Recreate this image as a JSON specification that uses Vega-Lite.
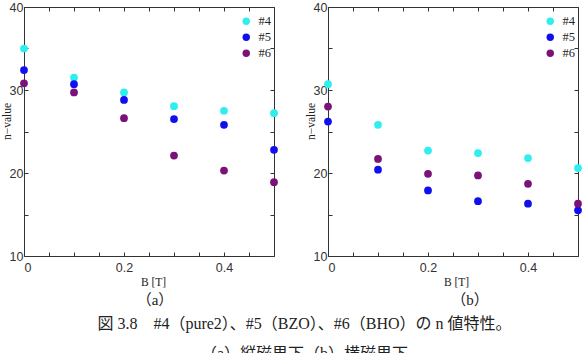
{
  "$schema": "https://vega.github.io/schema/vega-lite/v6.json",
  "background": "white",
  "padding": {"left": 0, "top": 0, "right": 6, "bottom": 0},
  "data": {
    "values": [
      {"panel": "a", "sample": "#4", "B": 0.0, "n": 35.0},
      {"panel": "a", "sample": "#4", "B": 0.1, "n": 31.5},
      {"panel": "a", "sample": "#4", "B": 0.2, "n": 29.7},
      {"panel": "a", "sample": "#4", "B": 0.3, "n": 28.05},
      {"panel": "a", "sample": "#4", "B": 0.4, "n": 27.5},
      {"panel": "a", "sample": "#4", "B": 0.5, "n": 27.2},
      {"panel": "a", "sample": "#5", "B": 0.0, "n": 32.4},
      {"panel": "a", "sample": "#5", "B": 0.1, "n": 30.7},
      {"panel": "a", "sample": "#5", "B": 0.2, "n": 28.8},
      {"panel": "a", "sample": "#5", "B": 0.3, "n": 26.5},
      {"panel": "a", "sample": "#5", "B": 0.4, "n": 25.8},
      {"panel": "a", "sample": "#5", "B": 0.5, "n": 22.8},
      {"panel": "a", "sample": "#6", "B": 0.0, "n": 30.8},
      {"panel": "a", "sample": "#6", "B": 0.1, "n": 29.7},
      {"panel": "a", "sample": "#6", "B": 0.2, "n": 26.6},
      {"panel": "a", "sample": "#6", "B": 0.3, "n": 22.1},
      {"panel": "a", "sample": "#6", "B": 0.4, "n": 20.3},
      {"panel": "a", "sample": "#6", "B": 0.5, "n": 18.9},
      {"panel": "b", "sample": "#4", "B": 0.0, "n": 30.7},
      {"panel": "b", "sample": "#4", "B": 0.1, "n": 25.8},
      {"panel": "b", "sample": "#4", "B": 0.2, "n": 22.7},
      {"panel": "b", "sample": "#4", "B": 0.3, "n": 22.4},
      {"panel": "b", "sample": "#4", "B": 0.4, "n": 21.8},
      {"panel": "b", "sample": "#4", "B": 0.5, "n": 20.6},
      {"panel": "b", "sample": "#5", "B": 0.0, "n": 26.2},
      {"panel": "b", "sample": "#5", "B": 0.1, "n": 20.4},
      {"panel": "b", "sample": "#5", "B": 0.2, "n": 17.9},
      {"panel": "b", "sample": "#5", "B": 0.3, "n": 16.6},
      {"panel": "b", "sample": "#5", "B": 0.4, "n": 16.3},
      {"panel": "b", "sample": "#5", "B": 0.5, "n": 15.5},
      {"panel": "b", "sample": "#6", "B": 0.0, "n": 28.0},
      {"panel": "b", "sample": "#6", "B": 0.1, "n": 21.7},
      {"panel": "b", "sample": "#6", "B": 0.2, "n": 19.9},
      {"panel": "b", "sample": "#6", "B": 0.3, "n": 19.7},
      {"panel": "b", "sample": "#6", "B": 0.4, "n": 18.7},
      {"panel": "b", "sample": "#6", "B": 0.5, "n": 16.3}
    ]
  },
  "bounds": "flush",
  "spacing": 54,
  "title": {
    "text": ["図 3.8　#4（pure2）、#5（BZO）、#6（BHO）の n 値特性。", "（a）縦磁界下（b）横磁界下"],
    "orient": "bottom",
    "anchor": "middle",
    "font": "Liberation Serif, Noto Sans CJK JP",
    "fontSize": 16,
    "fontWeight": "normal",
    "color": "#222",
    "lineHeight": 30,
    "offset": 7,
    "dx": 13
  },
  "resolve": {"scale": {"color": "independent"}, "legend": {"color": "independent"}},
  "config": {
    "view": {"stroke": "#333", "strokeWidth": 1},
    "axis": {
      "grid": false,
      "domain": false,
      "tickColor": "#333",
      "tickSize": -4,
      "tickWidth": 1,
      "labelFont": "Liberation Sans",
      "labelFontSize": 12.5,
      "labelColor": "#333",
      "titleFont": "Liberation Serif",
      "titleFontSize": 11.5,
      "titleFontWeight": "normal",
      "titleColor": "#222"
    },
    "legend": {
      "labelFont": "Liberation Serif",
      "labelFontSize": 12.5,
      "labelColor": "#222",
      "symbolType": "circle",
      "symbolSize": 55,
      "symbolStrokeWidth": 0,
      "rowPadding": 3,
      "labelOffset": 6
    }
  },
  "hconcat": [
    {
      "width": 250,
      "height": 249,
      "title": {"text": "（a）", "orient": "bottom", "anchor": "middle", "font": "Liberation Serif, Noto Sans CJK JP", "fontSize": 15, "fontWeight": "normal", "color": "#222", "offset": 5, "dx": 6},
      "transform": [{"filter": "datum.panel == 'a'"}],
      "layer": [
        {
          "mark": {"type": "point", "filled": true, "size": 60, "opacity": 1},
          "encoding": {
            "x": {"field": "B", "type": "quantitative", "scale": {"domain": [0, 0.5], "nice": false, "zero": false},
              "axis": {"orient": "bottom", "values": [0, 0.05, 0.1, 0.15, 0.2, 0.25, 0.3, 0.35, 0.4, 0.45, 0.5],
                "labelExpr": "datum.value == 0 ? '0' : datum.value == 0.2 ? '0.2' : datum.value == 0.4 ? '0.4' : ''",
                "labelPadding": 9, "title": "B [T]", "titlePadding": 3, "titleX": 129}},
            "y": {"field": "n", "type": "quantitative", "scale": {"domain": [10, 40], "nice": false, "zero": false},
              "axis": {"orient": "left", "values": [10, 15, 20, 25, 30, 35, 40],
                "labelExpr": "datum.value % 10 == 0 ? datum.label : ''",
                "labelPadding": 5, "title": "n−value", "titlePadding": -3, "titleY": 114}},
            "color": {"field": "sample", "type": "nominal",
              "scale": {"domain": ["#4", "#5", "#6"], "range": ["#2eeeee", "#1010ee", "#7b1279"]},
              "legend": {"title": null, "orient": "none", "legendX": 216, "legendY": 8}}
          }
        },
        {
          "mark": {"type": "point", "opacity": 0},
          "encoding": {
            "x": {"field": "B", "type": "quantitative", "scale": {"domain": [0, 0.5], "nice": false, "zero": false},
              "axis": {"orient": "top", "values": [0, 0.05, 0.1, 0.15, 0.2, 0.25, 0.3, 0.35, 0.4, 0.45, 0.5], "labels": false, "title": null}},
            "y": {"field": "n", "type": "quantitative", "scale": {"domain": [10, 40], "nice": false, "zero": false},
              "axis": {"orient": "right", "values": [10, 15, 20, 25, 30, 35, 40], "labels": false, "title": null}}
          }
        }
      ],
      "resolve": {"axis": {"x": "independent", "y": "independent"}}
    },
    {
      "width": 250,
      "height": 249,
      "title": {"text": "（b）", "orient": "bottom", "anchor": "middle", "font": "Liberation Serif, Noto Sans CJK JP", "fontSize": 15, "fontWeight": "normal", "color": "#222", "offset": 5, "dx": 17},
      "transform": [{"filter": "datum.panel == 'b'"}],
      "layer": [
        {
          "mark": {"type": "point", "filled": true, "size": 60, "opacity": 1},
          "encoding": {
            "x": {"field": "B", "type": "quantitative", "scale": {"domain": [0, 0.5], "nice": false, "zero": false},
              "axis": {"orient": "bottom", "values": [0, 0.05, 0.1, 0.15, 0.2, 0.25, 0.3, 0.35, 0.4, 0.45, 0.5],
                "labelExpr": "datum.value == 0 ? '0' : datum.value == 0.2 ? '0.2' : datum.value == 0.4 ? '0.4' : ''",
                "labelPadding": 9, "title": "B [T]", "titlePadding": 3, "titleX": 128}},
            "y": {"field": "n", "type": "quantitative", "scale": {"domain": [10, 40], "nice": false, "zero": false},
              "axis": {"orient": "left", "values": [10, 15, 20, 25, 30, 35, 40],
                "labelExpr": "datum.value % 10 == 0 ? datum.label : ''",
                "labelPadding": 5, "title": "n−value", "titlePadding": -3, "titleY": 114}},
            "color": {"field": "sample", "type": "nominal",
              "scale": {"domain": ["#4", "#5", "#6"], "range": ["#2eeeee", "#1010ee", "#7b1279"]},
              "legend": {"title": null, "orient": "none", "legendX": 216, "legendY": 8}}
          }
        },
        {
          "mark": {"type": "point", "opacity": 0},
          "encoding": {
            "x": {"field": "B", "type": "quantitative", "scale": {"domain": [0, 0.5], "nice": false, "zero": false},
              "axis": {"orient": "top", "values": [0, 0.05, 0.1, 0.15, 0.2, 0.25, 0.3, 0.35, 0.4, 0.45, 0.5], "labels": false, "title": null}},
            "y": {"field": "n", "type": "quantitative", "scale": {"domain": [10, 40], "nice": false, "zero": false},
              "axis": {"orient": "right", "values": [10, 15, 20, 25, 30, 35, 40], "labels": false, "title": null}}
          }
        }
      ],
      "resolve": {"axis": {"x": "independent", "y": "independent"}}
    }
  ]
}
